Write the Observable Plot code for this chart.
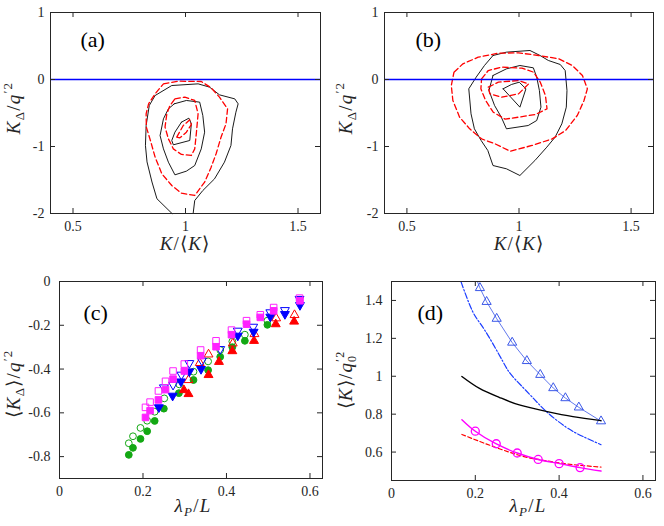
<!DOCTYPE html>
<html><head><meta charset="utf-8">
<script src="https://cdn.jsdelivr.net/npm/d3@7"></script>
<script src="https://cdn.jsdelivr.net/npm/@observablehq/plot@0.6"></script>
<style>
body{margin:0;background:#fff;}
#wrap{position:relative;width:664px;height:526px;background:#fff;}
.panel{position:absolute;}
.panel svg{font-family:'Liberation Serif','Times New Roman',serif !important;}
.panel svg text{font-family:'Liberation Serif','Times New Roman',serif !important;}
</style></head><body><div id="wrap"></div>
<script>
// ---------- tick labels ----------
const abTicksX = [0.5, 1, 1.5];
const abTicksY = [-2, -1, 0, 1];
const cdTicksX = [0, 0.2, 0.4, 0.6];
const cTicksY = [-0.8, -0.6, -0.4, -0.2, 0];
const dTicksY = [0.6, 0.8, 1, 1.2, 1.4];
const zeroLine = [0];
const tags = ["(a)", "(b)", "(c)", "(d)"];

// ---------- panel (a) contours [K/<K>, K_Delta/q'^2] ----------
const aBlackOuter = [[0.940,-2.0],[0.873,-1.78],[0.851,-1.53],[0.829,-1.23],[0.822,-0.985],[0.825,-0.687],[0.839,-0.388],[0.865,-0.239],[0.939,-0.090],[1.056,-0.065],[1.107,-0.114],[1.151,-0.229],[1.219,-0.289],[1.234,-0.363],[1.224,-0.488],[1.209,-0.736],[1.202,-0.985],[1.173,-1.234],[1.129,-1.483],[1.077,-1.657],[1.041,-1.806],[1.034,-2.0]];
const aBlackMid = [[0.950,-0.363],[1.004,-0.313],[1.063,-0.338],[1.077,-0.537],[1.085,-0.786],[1.070,-1.035],[1.041,-1.284],[1.004,-1.368],[0.953,-1.423],[0.924,-1.234],[0.902,-1.035],[0.887,-0.836],[0.902,-0.587],[0.924,-0.438]];
const aBlackInner = [[0.982,-0.637],[1.015,-0.577],[1.026,-0.662],[1.019,-0.910],[0.946,-0.975],[0.939,-0.910],[0.953,-0.786]];
const aRedOuter = [[0.902,-0.065],[0.968,-0.025],[1.070,-0.030],[1.114,-0.124],[1.151,-0.264],[1.187,-0.438],[1.180,-0.662],[1.158,-0.861],[1.136,-1.109],[1.114,-1.308],[1.085,-1.532],[1.041,-1.731],[0.982,-1.697],[0.939,-1.582],[0.895,-1.408],[0.865,-1.159],[0.844,-0.910],[0.826,-0.711],[0.825,-0.512],[0.836,-0.363],[0.865,-0.214]];
const aRedMid = [[0.953,-0.289],[0.997,-0.264],[1.041,-0.313],[1.056,-0.512],[1.048,-0.811],[1.041,-1.035],[1.026,-1.134],[0.982,-1.119],[0.946,-1.035],[0.924,-0.886],[0.909,-0.711],[0.917,-0.512],[0.931,-0.388]];
const aRedInner = [[0.961,-0.861],[0.990,-0.687],[1.019,-0.602],[1.026,-0.672],[1.004,-0.786],[0.975,-0.871]];

// ---------- panel (b) contours ----------
const bBlackOuter = [[0.884,0.358],[0.944,0.408],[1.049,0.433],[1.094,0.358],[1.131,0.284],[1.184,0.224],[1.206,0.134],[1.214,-0.164],[1.211,-0.413],[1.191,-0.662],[1.161,-0.861],[1.124,-1.010],[1.071,-1.209],[1.004,-1.433],[0.944,-1.333],[0.884,-1.284],[0.861,-1.060],[0.831,-0.910],[0.801,-0.736],[0.786,-0.512],[0.776,-0.139],[0.809,0.035],[0.846,0.209]];
const bBlackMid = [[0.884,0.060],[0.944,0.159],[1.004,0.209],[1.064,0.174],[1.079,0.035],[1.091,-0.164],[1.098,-0.413],[1.079,-0.612],[1.041,-0.687],[0.944,-0.736],[0.921,-0.562],[0.891,-0.388],[0.866,-0.164],[0.876,-0.040]];
const bBlackInner = [[0.929,-0.139],[0.966,-0.075],[1.001,-0.040],[1.031,-0.139],[1.004,-0.413],[0.966,-0.274]];
const bRedOuter = [[0.710,0.109],[0.750,0.234],[0.818,0.333],[0.908,0.393],[0.998,0.398],[1.088,0.358],[1.178,0.308],[1.238,0.209],[1.283,0.060],[1.305,-0.139],[1.290,-0.313],[1.260,-0.537],[1.208,-0.761],[1.148,-0.886],[1.058,-0.985],[0.960,-1.070],[0.893,-0.960],[0.833,-0.886],[0.780,-0.736],[0.735,-0.562],[0.705,-0.313],[0.698,-0.090]];
const bRedMid = [[0.833,0.010],[0.863,0.134],[0.923,0.184],[1.013,0.169],[1.065,0.109],[1.095,-0.040],[1.118,-0.239],[1.125,-0.438],[1.073,-0.522],[0.998,-0.562],[0.938,-0.592],[0.885,-0.488],[0.851,-0.313],[0.830,-0.139]];
const bRedInner = [[0.863,-0.114],[0.908,-0.040],[0.998,-0.015],[1.043,-0.065],[0.998,-0.214],[0.923,-0.264],[0.870,-0.214]];

// ---------- panel (c) scatter [lambda_P/L, <K_Delta>/q'^2] ----------
const cGreenFilled = [[0.166,-0.792],[0.176,-0.760],[0.194,-0.719],[0.210,-0.684],[0.228,-0.637],[0.250,-0.581],[0.286,-0.510],[0.321,-0.450],[0.356,-0.405],[0.385,-0.344],[0.414,-0.300],[0.444,-0.271],[0.498,-0.198]];
const cGreenOpen = [[0.166,-0.739],[0.176,-0.707],[0.194,-0.669],[0.210,-0.636],[0.228,-0.595],[0.251,-0.534],[0.287,-0.470],[0.321,-0.412],[0.356,-0.365],[0.385,-0.313],[0.414,-0.274],[0.444,-0.243],[0.498,-0.179]];
const cRedFilled = [[0.298,-0.496],[0.309,-0.514],[0.357,-0.427],[0.382,-0.367],[0.414,-0.318],[0.466,-0.271],[0.518,-0.195],[0.562,-0.183]];
const cRedOpen = [[0.309,-0.450],[0.336,-0.372],[0.357,-0.333],[0.415,-0.283],[0.467,-0.240],[0.519,-0.168],[0.563,-0.153]];
const cBlueFilled = [[0.238,-0.575],[0.271,-0.522],[0.291,-0.457],[0.311,-0.411],[0.339,-0.400],[0.427,-0.248],[0.465,-0.230],[0.505,-0.161],[0.540,-0.149],[0.576,-0.108]];
const cBlueOpen = [[0.250,-0.484],[0.272,-0.472],[0.292,-0.426],[0.311,-0.373],[0.341,-0.362],[0.385,-0.309],[0.427,-0.225],[0.464,-0.207],[0.505,-0.141],[0.540,-0.131],[0.575,-0.080]];
const cMagFilled = [[0.206,-0.621],[0.217,-0.590],[0.237,-0.541],[0.254,-0.494],[0.272,-0.446],[0.299,-0.409],[0.338,-0.339],[0.375,-0.298],[0.412,-0.243],[0.448,-0.195],[0.481,-0.164],[0.513,-0.134],[0.576,-0.088]];
const cMagOpen = [[0.206,-0.575],[0.217,-0.551],[0.237,-0.500],[0.254,-0.456],[0.272,-0.409],[0.299,-0.377],[0.338,-0.313],[0.375,-0.271],[0.412,-0.222],[0.448,-0.179],[0.481,-0.152],[0.513,-0.119],[0.575,-0.076]];

// ---------- panel (d) curves [lambda_P/L, <K>/q0'^2] ----------
const dTriLine = [[0.205,1.50],[0.211,1.466],[0.227,1.393],[0.251,1.304],[0.288,1.178],[0.323,1.081],[0.355,1.008],[0.386,0.938],[0.415,0.885],[0.447,0.836],[0.500,0.763]];
const dTriX = [0.211,0.227,0.251,0.288,0.323,0.355,0.386,0.415,0.447,0.500];
const dTriY = [1.466,1.393,1.304,1.178,1.081,1.008,0.938,0.885,0.836,0.763];
const dDashDot = [[0.166,1.498],[0.194,1.34],[0.222,1.245],[0.265,1.081],[0.289,0.999],[0.329,0.906],[0.369,0.815],[0.417,0.731],[0.457,0.682],[0.500,0.639]];
const dBlack = [[0.168,0.999],[0.210,0.936],[0.257,0.889],[0.305,0.849],[0.369,0.815],[0.433,0.787],[0.500,0.766]];
const dMagLine = [[0.168,0.771],[0.200,0.710],[0.249,0.644],[0.300,0.595],[0.350,0.561],[0.401,0.539],[0.450,0.518],[0.500,0.500]];
const dMagX = [0.200,0.250,0.300,0.350,0.400,0.450];
const dMagY = [0.710,0.644,0.595,0.561,0.539,0.518];
const dRedDash = [[0.168,0.693],[0.220,0.648],[0.300,0.586],[0.350,0.561],[0.400,0.543],[0.450,0.530],[0.500,0.521]];

// ---------- helpers ----------
const FONT = "'Liberation Serif','Times New Roman',serif";
const AX = "#262626";
const closed = pts => [...pts, pts[0]];
const px = d => d[0], py = d => d[1];
const blackC = pts => Plot.line(pts, {x: px, y: py, stroke: "black", strokeWidth: 0.9});
const redC = pts => Plot.line(pts, {x: px, y: py, stroke: "#ff0000", strokeWidth: 1.3, strokeDasharray: "5.5,3"});
const it = s => `<tspan font-style="italic">${s}</tspan>`;

function makePanel(o) {
  const fw = o.width - o.ml - o.mr, fh = o.height - o.mt - o.mb, t = 5;
  const svg = Plot.plot({
    width: o.width, height: o.height,
    marginLeft: o.ml, marginRight: o.mr, marginTop: o.mt, marginBottom: o.mb,
    x: {domain: o.xd}, y: {domain: o.yd},
    style: {fontFamily: FONT, fontSize: "14px", color: AX, background: "transparent", overflow: "visible"},
    marks: [
      ...o.marks,
      Plot.tickX(o.xt, {x: d => d, insetTop: fh - t, stroke: AX}),
      Plot.tickX(o.xt, {x: d => d, insetBottom: fh - t, stroke: AX}),
      Plot.tickY(o.yt, {y: d => d, insetRight: fw - t, stroke: AX}),
      Plot.tickY(o.yt, {y: d => d, insetLeft: fw - t, stroke: AX}),
      Plot.frame({stroke: AX, strokeWidth: 1}),
      Plot.axisX(o.xt, {tickSize: 0, tickPadding: 8, tickFormat: d => String(d), label: null, fontSize: 14}),
      Plot.axisY(o.yt, {tickSize: 0, tickPadding: o.ypad, tickFormat: d => String(d), label: null, fontSize: 14}),
      Plot.text([o.tag], {text: d => d, frameAnchor: "top-left", textAnchor: "start", dx: o.tagDx, dy: o.tagDy, fontSize: 22, fill: "black"})
    ]
  });
  const s = d3.select(svg);
  s.append("text").attr("x", o.xlx).attr("y", o.xly).attr("text-anchor", "middle")
    .attr("font-family", FONT).attr("font-size", 19).attr("letter-spacing", "1.2px").attr("fill", AX).html(o.xlab);
  s.append("text").attr("transform", `translate(${o.ylx},${o.yly}) rotate(-90)`).attr("text-anchor", "middle")
    .attr("font-family", FONT).attr("font-size", 19).attr("letter-spacing", "1.2px").attr("fill", AX).html(o.ylab);
  const div = document.createElement("div");
  div.className = "panel";
  div.style.left = o.left + "px";
  div.style.top = o.top + "px";
  div.appendChild(svg);
  document.getElementById("wrap").appendChild(div);
}

const xlabAB = `${it("K")}/⟨${it("K")}⟩`;
const ylabAB = `${it("K")}<tspan font-size="13" dy="4">Δ</tspan><tspan dy="-4">/</tspan>${it("q")}<tspan font-size="13" dy="-8">′2</tspan>`;
const xlabCD = `${it("λ")}<tspan font-size="13" dy="4" font-style="italic">P</tspan><tspan dy="-4">/</tspan>${it("L")}`;
const ylabC = `⟨${it("K")}<tspan font-size="13" dy="4">Δ</tspan><tspan dy="-4">⟩/</tspan>${it("q")}<tspan font-size="13" dy="-8">′2</tspan>`;
const ylabD = `⟨${it("K")}⟩/${it("q")}<tspan font-size="12" dy="4">0</tspan><tspan font-size="12" dx="-7" dy="-12">′2</tspan>`;

// (a)
makePanel({left: 0, top: 0, width: 332, height: 260, ml: 50, mr: 12, mt: 12, mb: 47,
  xd: [0.4, 1.6], yd: [-2, 1], xt: abTicksX, yt: abTicksY, ypad: 6,
  tag: tags[0], tagDx: 30, tagDy: 19,
  xlab: xlabAB, xlx: 185, xly: 250, ylab: ylabAB, ylx: 20, yly: 108,
  marks: [
    blackC(aBlackOuter), blackC(closed(aBlackMid)), blackC(closed(aBlackInner)),
    redC(closed(aRedOuter)), redC(closed(aRedMid)), redC(closed(aRedInner)),
    Plot.ruleY(zeroLine, {y: d => d, stroke: "#0000ff", strokeWidth: 1.6})
  ]});

// (b)
makePanel({left: 332, top: 0, width: 332, height: 260, ml: 52, mr: 11, mt: 12, mb: 47,
  xd: [0.4, 1.6], yd: [-2, 1], xt: abTicksX, yt: abTicksY, ypad: 6,
  tag: tags[1], tagDx: 31, tagDy: 19,
  xlab: xlabAB, xlx: 187, xly: 250, ylab: ylabAB, ylx: 20, yly: 108,
  marks: [
    blackC(closed(bBlackOuter)), blackC(closed(bBlackMid)), blackC(closed(bBlackInner)),
    redC(closed(bRedOuter)), redC(closed(bRedMid)), redC(closed(bRedInner)),
    Plot.ruleY(zeroLine, {y: d => d, stroke: "#0000ff", strokeWidth: 1.6})
  ]});

// (c)
const GREEN = "#13a813", RED = "#ff0000", BLUE = "#0000ff", MAG = "#ff22ff";
const dotO = (data, symbol, color, r, rot = 0) => Plot.dot(data, {x: px, y: py, symbol, r, rotate: rot, fill: "none", stroke: color, strokeWidth: 1});
const dotF = (data, symbol, color, r, rot = 0) => Plot.dot(data, {x: px, y: py, symbol, r, rotate: rot, fill: color, stroke: color, strokeWidth: 1});
makePanel({left: 0, top: 260, width: 332, height: 266, ml: 59, mr: 10, mt: 21, mb: 48,
  xd: [0, 0.63], yd: [-0.9, 0], xt: cdTicksX, yt: cTicksY, ypad: 9,
  tag: tags[2], tagDx: 24, tagDy: 23,
  xlab: xlabCD, xlx: 193, xly: 252, ylab: ylabC, ylx: 20, yly: 124,
  marks: [
    dotF(cGreenFilled, "circle", GREEN, 3.4),
    dotO(cGreenOpen, "circle", GREEN, 3.4),
    dotF(cRedFilled, "triangle", RED, 3.3),
    dotO(cRedOpen, "triangle", RED, 3.3),
    dotF(cBlueFilled, "triangle", BLUE, 3.3, 180),
    dotO(cBlueOpen, "triangle", BLUE, 3.3, 180),
    dotF(cMagFilled, "square", MAG, 3.7),
    dotO(cMagOpen, "square", MAG, 3.7)
  ]});

// (d)
const TRI = "#3a57e8";
makePanel({left: 332, top: 260, width: 332, height: 266, ml: 59, mr: 9, mt: 21, mb: 46,
  xd: [0, 0.63], yd: [0.45, 1.5], xt: cdTicksX, yt: dTicksY, ypad: 9,
  tag: tags[3], tagDx: 26, tagDy: 23,
  xlab: xlabCD, xlx: 196, xly: 252, ylab: ylabD, ylx: 20, yly: 120,
  marks: [
    Plot.line(dDashDot, {x: px, y: py, curve: "natural", stroke: "#1a3cff", strokeWidth: 1.2, strokeDasharray: "6,2,1.5,2"}),
    Plot.line(dTriLine, {x: px, y: py, stroke: TRI, strokeWidth: 0.8}),
    Plot.dot(dTriX, {x: d => d, y: (d, i) => dTriY[i], symbol: "triangle", r: 3.4, fill: "none", stroke: TRI, strokeWidth: 1}),
    Plot.line(dBlack, {x: px, y: py, curve: "natural", stroke: "black", strokeWidth: 1.4}),
    Plot.line(dRedDash, {x: px, y: py, curve: "natural", stroke: "#ff0000", strokeWidth: 1.2, strokeDasharray: "4,2.5"}),
    Plot.line(dMagLine, {x: px, y: py, curve: "natural", stroke: "#ff00ff", strokeWidth: 1.4}),
    Plot.dot(dMagX, {x: d => d, y: (d, i) => dMagY[i], r: 4, fill: "none", stroke: "#ff00ff", strokeWidth: 1.3})
  ]});
</script></body></html>
